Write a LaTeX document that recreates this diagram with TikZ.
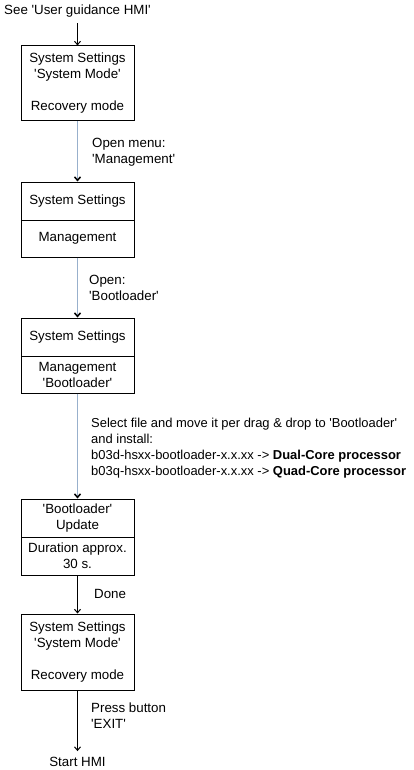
\documentclass[tikz,border=0pt]{standalone}
\usepackage{fontspec}
\setmainfont{Liberation Sans}[Ligatures=TeXOff]
\usepackage{tikz}
\usetikzlibrary{arrows.meta}

\definecolor{menuline}{RGB}{152,176,204}

\begin{document}
\begin{tikzpicture}[
    x=1pt, y=-1pt,
    every node/.style={anchor=center, font=\fontsize{13.33}{16}\selectfont},
    screen/.style={draw, line width=1pt, minimum width=113pt, inner sep=0pt, align=center},
    caption/.style={anchor=west, align=left, inner sep=0pt},
    terminal/.style={inner sep=6pt},
    arrow/.style={-{Straight Barb[length=3.5pt, width=6pt, color=black]}, line width=1pt},
    menu/.style={arrow, draw=menuline, line width=1.5pt}
    ]
\useasboundingbox (0,0) rectangle (414,770);

% Start and end
\node[terminal] (User Guidance) at (77.5,11) {See 'User guidance HMI'};
\node[terminal] (Start HMI) at (77.5,762) {Start HMI};

% Screens
\node[screen, minimum height=75pt] (recovery) at (77.5,83.5)
    {System Settings\\'System Mode'\\[16pt]Recovery mode};

\node[screen, minimum height=38pt] (mgmt head) at (77.5,201) {System Settings};
\node[screen, minimum height=37pt] (mgmt body) at (77.5,238.5) {Management};

\node[screen, minimum height=38pt] (boot head) at (77.5,337) {System Settings};
\node[screen, minimum height=37pt] (boot body) at (77.5,374.5) {Management\\'Bootloader'};

\node[screen, minimum height=38pt] (update head) at (77.5,518) {'Bootloader'\\Update};
\node[screen, minimum height=38pt] (update body) at (77.5,556) {Duration approx.\\30 s.};

\node[screen, minimum height=76pt] (recovery2) at (77.5,652)
    {System Settings\\'System Mode'\\[16pt]Recovery mode};

% Step captions
\node[caption] (open menu) at (92,152.5) {Open menu:\\'Management'};
\node[caption] (open boot) at (89,288) {Open:\\'Bootloader'};
\node[caption, font=\fontsize{12.95}{16}\selectfont] (install) at (91,448.5)
    {Select file and move it per drag \& drop to 'Bootloader'\\and install:\\
    b03d-hsxx-bootloader-x.x.xx -> \textbf{Dual-Core processor}\\
    b03q-hsxx-bootloader-x.x.xx -> \textbf{Quad-Core processor}};
\node[caption] (done) at (94,594) {Done};
\node[caption] (exit) at (91,716) {Press button\\'EXIT'};

% Arrows
\draw[arrow] (User Guidance) to (recovery);
\draw[menu] (recovery) to (mgmt head);
\draw[menu] (mgmt body) to (boot head);
\draw[menu] (boot body) to (update head);
\draw[arrow] (update body) to (recovery2);
\draw[arrow] (recovery2) to (Start HMI);

\end{tikzpicture}
\end{document}
